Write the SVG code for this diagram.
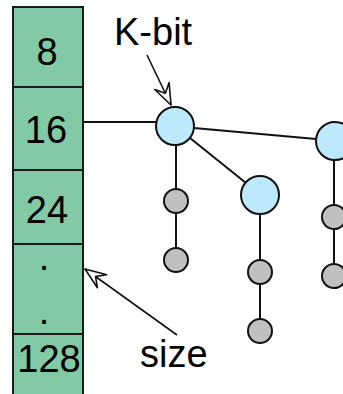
<svg xmlns="http://www.w3.org/2000/svg" width="343" height="394" viewBox="0 0 343 394">
<style>
.cell{fill:#82caa5;stroke:#1a1a1a;stroke-width:2}
.lbl{font-family:"Liberation Sans",Arial,sans-serif;font-size:38px;fill:#000}
.mid{text-anchor:middle}
.big{fill:#bde9fc;stroke:#111;stroke-width:2}
.small{fill:#c0c0c0;stroke:#111;stroke-width:2}
.edge{stroke:#111;stroke-width:2;fill:none}
.ptr{stroke:#111;stroke-width:1.6;fill:none}
</style>
<defs>
<marker id="open" markerUnits="userSpaceOnUse" markerWidth="30" markerHeight="24" refX="0" refY="0" viewBox="-24 -12 26 24" orient="auto">
<path d="M0,0 L-21,-8 L-13,0 L-21,8 Z" fill="#fff" stroke="#111" stroke-width="1.6" stroke-linejoin="round"/>
</marker>
</defs>
<g id="array">
<rect class="cell" x="13" y="7" width="70" height="80"/>
<rect class="cell" x="13" y="87" width="70" height="83"/>
<rect class="cell" x="13" y="170" width="70" height="74"/>
<rect class="cell" x="13" y="244" width="70" height="90"/>
<rect class="cell" x="13" y="334" width="70" height="70"/>
<text class="lbl mid" x="47" y="65">8</text>
<text class="lbl mid" x="46" y="143">16</text>
<text class="lbl mid" x="47" y="223">24</text>
<text class="lbl mid" x="44" y="270">.</text>
<text class="lbl mid" x="44" y="324">.</text>
<text class="lbl mid" x="49" y="372">128</text>
</g>
<g id="connectors">
<line class="edge" x1="83" y1="122" x2="156" y2="122"/>
<line class="edge" x1="194" y1="128" x2="316" y2="139"/>
<line class="edge" x1="190" y1="138" x2="246" y2="183"/>
<line class="edge" x1="176" y1="145" x2="176" y2="189"/>
<line class="edge" x1="176" y1="213" x2="176" y2="248"/>
<line class="edge" x1="260" y1="214" x2="260" y2="260"/>
<line class="edge" x1="260" y1="284" x2="260" y2="319"/>
<line class="edge" x1="334" y1="160" x2="334" y2="205"/>
<line class="edge" x1="334" y1="229" x2="334" y2="264"/>
<line class="ptr" x1="147" y1="55" x2="171" y2="105" marker-end="url(#open)"/>
<line class="ptr" x1="177" y1="335" x2="85" y2="269" marker-end="url(#open)"/>
</g>
<g id="nodeA"><circle class="big" cx="175" cy="126" r="19"/></g>
<g id="nodeB"><circle class="big" cx="260" cy="195" r="19"/></g>
<g id="nodeC"><circle class="big" cx="335" cy="141" r="19"/></g>
<g id="nodeA1"><circle class="small" cx="176" cy="201" r="12"/></g>
<g id="nodeA2"><circle class="small" cx="176" cy="260" r="12"/></g>
<g id="nodeB1"><circle class="small" cx="260" cy="272" r="12"/></g>
<g id="nodeB2"><circle class="small" cx="260" cy="331" r="12"/></g>
<g id="nodeC1"><circle class="small" cx="334" cy="217" r="12"/></g>
<g id="nodeC2"><circle class="small" cx="334" cy="276" r="12"/></g>
<g id="labels">
<text class="lbl" x="114" y="45">K-bit</text>
<text class="lbl" x="140" y="367">size</text>
</g>
</svg>
